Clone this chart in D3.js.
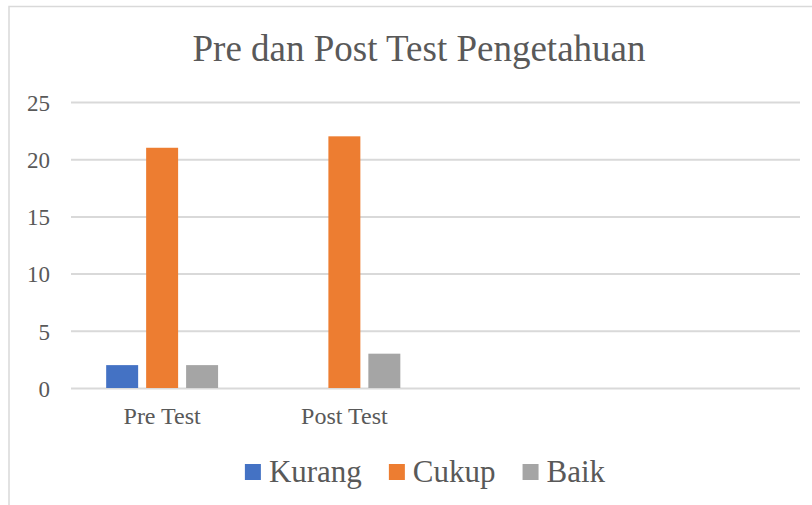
<!DOCTYPE html>
<html>
<head>
<meta charset="utf-8">
<script src="https://cdn.jsdelivr.net/npm/d3@7"></script>
<style>
  body { margin: 0; background: #fff; }
  svg { display: block; font-family: "Liberation Serif", "Times New Roman", serif; }
  .axis text { fill: #595959; }
</style>
</head>
<body>
<svg id="chart"></svg>
<script>
// chart data
const title = 'Pre dan Post Test Pengetahuan';
const categories = ['Pre Test', 'Post Test', '', ''];
const series = ['Kurang', 'Cukup', 'Baik'];
const kurang = [2, 0, null, null];
const cukup = [21, 22, null, null];
const baik = [2, 3, null, null];
const yTicks = [0, 5, 10, 15, 20, 25];
const colors = ['#4472C4', '#ED7D31', '#A5A5A5'];

const values = [kurang, cukup, baik];

const width = 812, height = 505;
const margin = { top: 102, right: 12, bottom: 117, left: 71 };
const innerW = width - margin.left - margin.right;
const innerH = height - margin.top - margin.bottom;
const serif = '"Liberation Serif", "Times New Roman", serif';

const svg = d3.select('#chart')
  .attr('width', width)
  .attr('height', height);

// Chart frame (extends past the window on the right and bottom)
svg.append('rect')
  .attr('x', 9)
  .attr('y', 6.5)
  .attr('width', 840)
  .attr('height', 540)
  .attr('fill', '#fff')
  .attr('stroke', '#d9d9d9')
  .attr('stroke-width', 1.5);

// Title
svg.append('text')
  .attr('x', 419)
  .attr('y', 61)
  .attr('text-anchor', 'middle')
  .attr('fill', '#595959')
  .style('font-size', '37px')
  .text(title);

const g = svg.append('g')
  .attr('transform', `translate(${margin.left},${margin.top})`);

// Scales
const x0 = d3.scaleBand()
  .domain(d3.range(categories.length))
  .range([0, innerW]);

const x1 = d3.scaleBand()
  .domain(series)
  .range([0, x0.bandwidth()])
  .paddingInner(0.2)
  .paddingOuter(0.88);

const y = d3.scaleLinear()
  .domain([0, 25])
  .range([innerH, 0]);

// Gridlines + y labels
const yAxisG = g.append('g')
  .attr('class', 'axis y-axis')
  .call(d3.axisLeft(y).tickValues(yTicks).tickSize(-innerW).tickPadding(21))
  .attr('font-family', serif);
yAxisG.select('.domain').remove();
yAxisG.selectAll('line')
  .attr('stroke', '#d9d9d9')
  .attr('stroke-width', 2);
yAxisG.selectAll('text')
  .attr('dy', '0.36em')
  .style('font-size', '23px');

// Bars
const groups = g.selectAll('.cat')
  .data(categories.map((c, i) => i))
  .join('g')
  .attr('class', 'cat')
  .attr('transform', i => `translate(${x0(i)},0)`);

groups.selectAll('rect')
  .data(i => series.map((s, j) => ({ s, j, v: values[j][i] })).filter(d => d.v))
  .join('rect')
  .attr('x', d => x1(d.s))
  .attr('width', x1.bandwidth())
  .attr('y', d => y(d.v))
  .attr('height', d => y(0) - y(d.v))
  .attr('fill', d => colors[d.j]);

// Category axis
const xAxisG = g.append('g')
  .attr('class', 'axis x-axis')
  .attr('transform', `translate(0,${innerH})`)
  .call(d3.axisBottom(x0).tickFormat(i => categories[i]).tickSize(0).tickPadding(19))
  .attr('font-family', serif);
xAxisG.select('.domain').remove();
xAxisG.selectAll('text')
  .style('font-size', '24px');

// Legend
const legend = svg.append('g').attr('class', 'legend');
const items = legend.selectAll('g')
  .data(series)
  .join('g');
items.append('rect')
  .attr('width', 16)
  .attr('height', 16)
  .attr('y', 464)
  .attr('fill', (d, j) => colors[j]);
items.append('text')
  .attr('x', 24)
  .attr('y', 482)
  .attr('fill', '#595959')
  .style('font-size', '31px')
  .text(d => d);

let cursor = 0;
const offsets = [];
items.each(function() {
  offsets.push(cursor);
  const w = 24 + d3.select(this).select('text').node().getComputedTextLength();
  cursor += w + 27;
});
const total = cursor - 27;
const startX = 425 - total / 2;
items.attr('transform', (d, j) => `translate(${startX + offsets[j]},0)`);
</script>
</body>
</html>
